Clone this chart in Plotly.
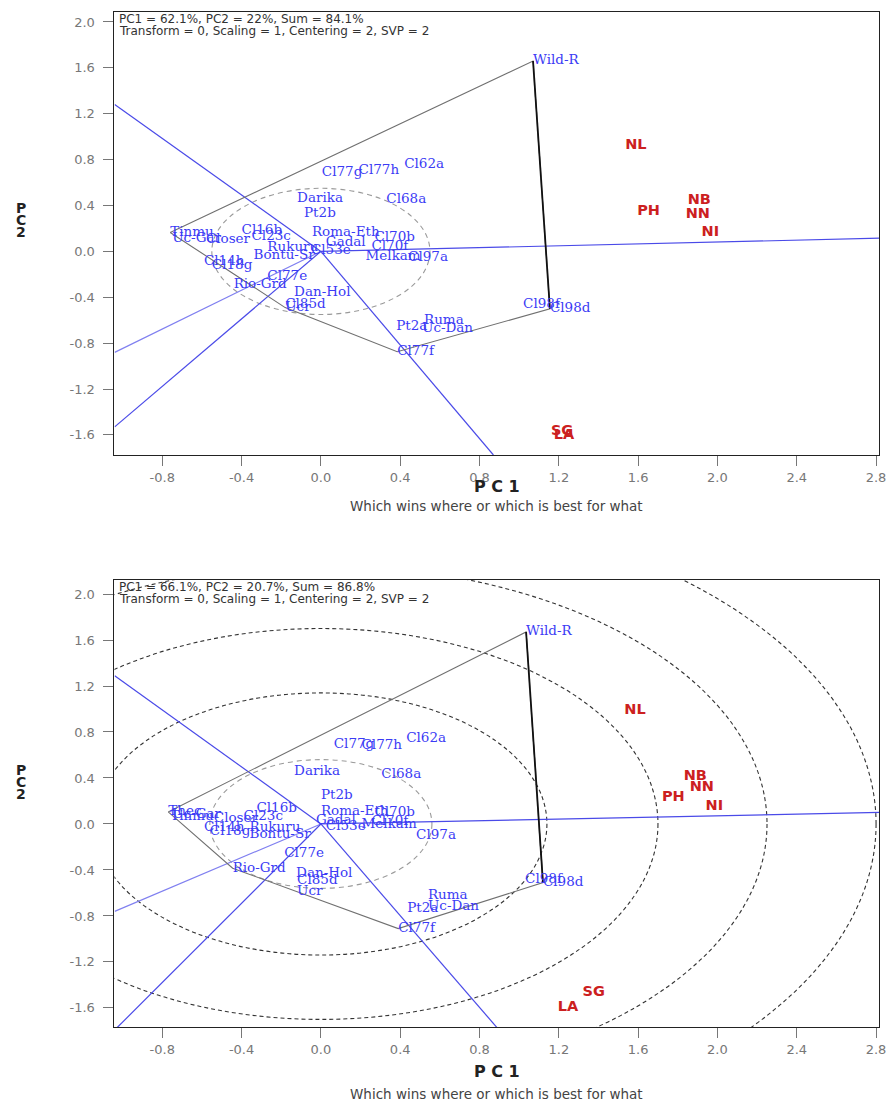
import plotly.graph_objects as go

# ---------------- data: top panel ----------------
top_stats = ["PC1 = 62.1%, PC2 = 22%, Sum = 84.1%",
             "Transform = 0, Scaling = 1, Centering = 2, SVP = 2"]
top_gen = ["Wild-R", "Cl77g", "Cl77h", "Cl62a", "Darika", "Cl68a", "Pt2b", "Cl16b",
           "Tinmu", "Uc-Gar", "Closer", "Cl23c", "Roma-Eth", "Cl70b", "Gadal", "Cl53e",
           "Rukuru", "Bontu-Sr", "Cl70f", "Melkam", "Cl97a", "Cl14h", "Cl18g", "Cl77e",
           "Rio-Grd", "Dan-Hol", "Cl85d", "Ucr", "Cl98f", "Cl98d", "Ruma", "Pt2a",
           "Uc-Dan", "Cl77f"]
top_gx = [1.07, 0.005, 0.19, 0.42, -0.12, 0.33, -0.085, -0.40,
          -0.76, -0.75, -0.58, -0.35, -0.045, 0.27, 0.025, -0.05,
          -0.27, -0.34, 0.255, 0.225, 0.44, -0.59, -0.55, -0.27,
          -0.44, -0.135, -0.18, -0.18, 1.02, 1.155, 0.52, 0.38,
          0.51, 0.385]
top_gy = [1.66, 0.69, 0.70, 0.76, 0.46, 0.45, 0.33, 0.18,
          0.165, 0.11, 0.10, 0.13, 0.16, 0.12, 0.08, 0.01,
          0.035, -0.035, 0.045, -0.045, -0.05, -0.09, -0.12, -0.22,
          -0.29, -0.36, -0.46, -0.49, -0.46, -0.50, -0.60, -0.66,
          -0.67, -0.875]
top_env = ["NL", "PH", "NB", "NN", "NI", "SG", "LA"]
top_ex = [1.535, 1.595, 1.85, 1.84, 1.92, 1.16, 1.175]
top_ey = [0.925, 0.35, 0.445, 0.325, 0.165, -1.565, -1.60]
top_poly = ["Tinmu", "Wild-R", "Cl98d", "Cl77f", "Ucr", "Tinmu"]
top_ray_x = [-1.04, 0.87, 2.82, -1.04, -1.04]
top_ray_y = [1.28, -1.775, 0.115, -0.88, -1.53]
top_circle_r = [0.55]

# ---------------- data: bottom panel ----------------
bot_stats = ["PC1 = 66.1%, PC2 = 20.7%, Sum = 86.8%",
             "Transform = 0, Scaling = 1, Centering = 2, SVP = 2"]
bot_gen = ["Wild-R", "Cl77g", "Cl77h", "Cl62a", "Darika", "Cl68a", "Pt2b", "Cl16b",
           "Thec", "Tinmu", "Uc-Gar", "Closer", "Cl23c", "Rukuru", "Bontu-Sr", "Cl14h",
           "Cl18g", "Roma-Eth", "Cl70b", "Gadal", "Cl53e", "Cl70f", "Melkam", "Cl97a",
           "Cl77e", "Rio-Grd", "Dan-Hol", "Cl85d", "Ucr", "Ruma", "Uc-Dan", "Pt2a",
           "Cl77f", "Cl98f", "Cl98d"]
bot_gx = [1.035, 0.065, 0.205, 0.43, -0.135, 0.305, 0.0, -0.325,
          -0.77, -0.76, -0.75, -0.54, -0.39, -0.36, -0.36, -0.59,
          -0.56, 0.0, 0.27, -0.025, 0.025, 0.255, 0.205, 0.48,
          -0.185, -0.445, -0.125, -0.12, -0.12, 0.54, 0.54, 0.435,
          0.39, 1.03, 1.12]
bot_gy = [1.67, 0.69, 0.68, 0.74, 0.455, 0.43, 0.25, 0.13,
          0.105, 0.06, 0.08, 0.045, 0.06, -0.035, -0.095, -0.035,
          -0.07, 0.11, 0.10, 0.03, -0.02, 0.02, -0.01, -0.10,
          -0.26, -0.385, -0.43, -0.49, -0.585, -0.62, -0.72, -0.74,
          -0.91, -0.48, -0.51]
bot_env = ["NL", "NB", "NN", "PH", "NI", "SG", "LA"]
bot_ex = [1.53, 1.83, 1.86, 1.72, 1.94, 1.32, 1.195]
bot_ey = [0.985, 0.41, 0.32, 0.235, 0.155, -1.465, -1.595]
bot_poly = ["Thec", "Wild-R", "Cl98d", "Cl77f", "Rio-Grd", "Thec"]
bot_ray_x = [-1.04, 0.89, 2.82, -1.04, -1.03]
bot_ray_y = [1.29, -1.775, 0.10, -0.76, -1.775]
bot_circle_r = [0.56, 1.14, 1.70, 2.25, 2.80]

tick_x = [-0.8, -0.4, 0.0, 0.4, 0.8, 1.2, 1.6, 2.0, 2.4, 2.8]
tick_y = [-1.6, -1.2, -0.8, -0.4, 0.0, 0.4, 0.8, 1.2, 1.6, 2.0]
xlabel = "P C 1"
ylabel = ["P", "C", "2"]
subtitle = "Which wins where or which is best for what"

W, H = 895, 1105
W_EFF = 892
GEN_COLOR = "#3b3bf5"
ENV_COLOR = "#cc2020"
RAY_COLOR = "#4a4ae8"


def fx(px):
    return px / W_EFF


def fy(py):
    return 1 - py / H


fig = go.Figure()
shapes = []
annotations = []


def add_panel(xa, ya, gen, gx, gy, env, ex, ey, poly, rx, ry, radii, stats,
              ptop, xtitle_y, sub_y, ytitle_y):
    for i, (x1, y1) in enumerate(zip(rx, ry)):
        col = RAY_COLOR if i != 3 else "#8080f0"
        fig.add_trace(go.Scatter(x=[0, x1], y=[0, y1], mode="lines",
                                 line=dict(color=col, width=1.2),
                                 xaxis=xa, yaxis=ya, showlegend=False, hoverinfo="skip"))
    idx = [gen.index(n) for n in poly]
    px = [gx[i] for i in idx]
    py = [gy[i] for i in idx]
    fig.add_trace(go.Scatter(x=px, y=py, mode="lines",
                             line=dict(color="#707070", width=1.1),
                             xaxis=xa, yaxis=ya, showlegend=False, hoverinfo="skip"))
    fig.add_trace(go.Scatter(x=px[1:3], y=py[1:3], mode="lines",
                             line=dict(color="#111111", width=1.8),
                             xaxis=xa, yaxis=ya, showlegend=False, hoverinfo="skip"))
    for k, r in enumerate(radii):
        shapes.append(dict(type="circle", xref=xa, yref=ya,
                           x0=-r, x1=r, y0=-r, y1=r, layer="below",
                           line=dict(color="#9a9a9a" if k == 0 else "#333333",
                                     width=1.1,
                                     dash="5px,4px" if k == 0 else "4px,3px")))
    fig.add_trace(go.Scatter(x=gx, y=gy, text=gen, mode="text",
                             textposition="middle right",
                             textfont=dict(family="DejaVu Serif", size=13.5, color=GEN_COLOR),
                             xaxis=xa, yaxis=ya, showlegend=False, hoverinfo="text"))
    fig.add_trace(go.Scatter(x=ex, y=ey, text=env, mode="text",
                             textposition="middle right",
                             textfont=dict(family="DejaVu Sans", size=14.5, color=ENV_COLOR),
                             texttemplate="<b>%{text}</b>",
                             xaxis=xa, yaxis=ya, showlegend=False, hoverinfo="text"))
    for j, s in enumerate(stats):
        annotations.append(dict(text=s, xref="paper", yref="paper",
                                x=fx(118), y=fy(ptop + 7 + 12 * j),
                                xanchor="left", yanchor="middle", showarrow=False,
                                font=dict(family="DejaVu Sans", size=12, color="#333")))
    annotations.append(dict(text="<b>" + xlabel + "</b>", xref="paper", yref="paper",
                            x=fx(499), y=fy(xtitle_y), xanchor="center", yanchor="middle",
                            showarrow=False,
                            font=dict(family="DejaVu Sans", size=16, color="#222")))
    annotations.append(dict(text=subtitle, xref="paper", yref="paper",
                            x=fx(499), y=fy(sub_y), xanchor="center", yanchor="middle",
                            showarrow=False,
                            font=dict(family="DejaVu Sans", size=13.5, color="#444")))
    for j, ch in enumerate(ylabel):
        annotations.append(dict(text="<b>" + ch + "</b>", xref="paper", yref="paper",
                                x=fx(21), y=fy(ytitle_y + 12 * (j - 1)),
                                xanchor="center", yanchor="middle", showarrow=False,
                                font=dict(family="DejaVu Sans", size=14, color="#222")))


add_panel("x", "y", top_gen, top_gx, top_gy, top_env, top_ex, top_ey, top_poly,
          top_ray_x, top_ray_y, top_circle_r, top_stats, 12, 486, 506, 220)
add_panel("x2", "y2", bot_gen, bot_gx, bot_gy, bot_env, bot_ex, bot_ey, bot_poly,
          bot_ray_x, bot_ray_y, bot_circle_r, bot_stats, 580, 1071, 1094, 782)

axis_common = dict(showgrid=False, zeroline=False, showline=True, linecolor="#222",
                   linewidth=1, mirror=True, ticks="outside", ticklen=10, tickcolor="#777",
                   tickwidth=1, ticklabeloverflow="allow",
                   tickfont=dict(family="DejaVu Sans", size=13, color="#777"))
xt = dict(tickvals=tick_x, ticktext=["%.1f" % v for v in tick_x])
yt = dict(tickvals=tick_y, ticktext=["%.1f" % v for v in tick_y], ticklabelstandoff=6)

fig.update_layout(
    width=W, height=H, margin=dict(l=0, r=0, t=0, b=0),
    paper_bgcolor="white", plot_bgcolor="white",
    xaxis=dict(domain=[fx(115), fx(883)], range=[-1.041, 2.815], anchor="y", **xt, **axis_common),
    yaxis=dict(domain=[fy(455), fy(12)], range=[-1.775, 2.087], anchor="x", **yt, **axis_common),
    xaxis2=dict(domain=[fx(115), fx(883)], range=[-1.041, 2.815], anchor="y2", **xt, **axis_common),
    yaxis2=dict(domain=[fy(1027), fy(580)], range=[-1.766, 2.122], anchor="x2", **yt, **axis_common),
    shapes=shapes, annotations=annotations,
)

page_css = ("document.documentElement.style.margin='0';"
            "document.body.style.margin='0';"
            "document.documentElement.style.overflow='hidden';"
            "document.body.style.overflow='hidden';")
fig.write_html("out.html", post_script=page_css, config={"displayModeBar": False})
